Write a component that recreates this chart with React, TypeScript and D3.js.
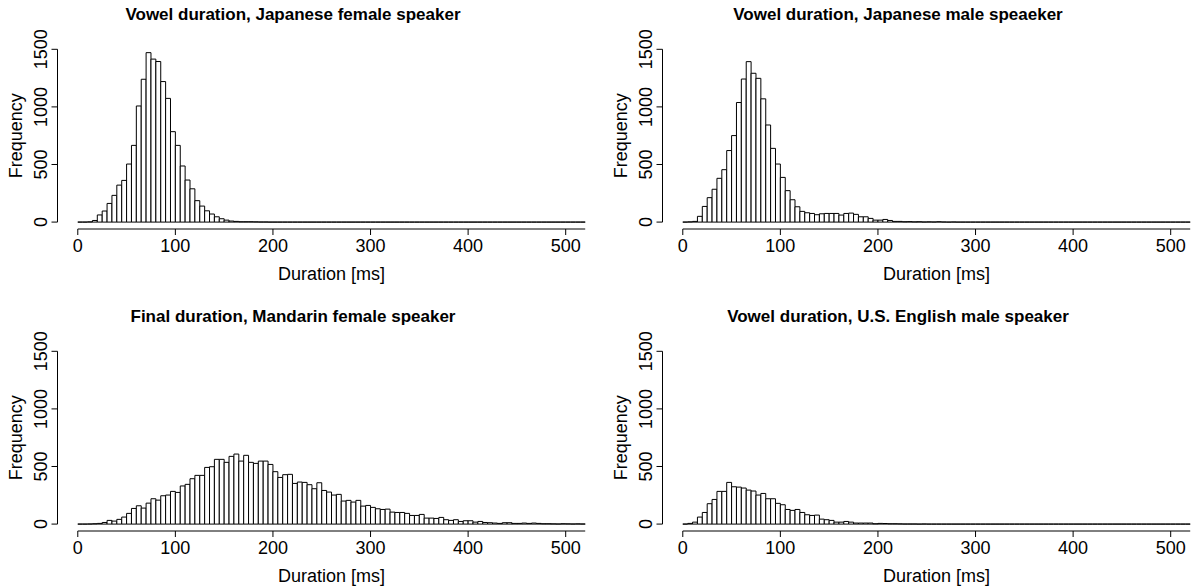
import * as d3 from "d3";

// histogram counts, 5 ms bins from 0 to 520 ms (104 bins)
const jpFemale = [
  0, 0, 2, 14, 62, 96, 162, 232, 321, 362, 504, 666, 1008, 1240, 1471, 1415, 1394, 1220, 1074, 785,
  666, 487, 365, 289, 186, 139, 98, 70, 46, 29, 17, 9, 6, 3, 3, 3, 2, 1, 1, 0,
  0, 0, 0, 0, 0, 0, 0, 0, 0, 0, 0, 0, 0, 0, 0, 0, 0, 0, 0, 0,
  0, 0, 0, 0, 0, 0, 0, 0, 0, 0, 0, 0, 0, 0, 0, 0, 0, 0, 0, 0,
  0, 0, 0, 0, 0, 0, 0, 0, 0, 0, 0, 0, 0, 0, 0, 0, 0, 0, 0, 0,
  0, 0, 0, 0,
];
const jpMale = [
  0, 2, 6, 50, 136, 212, 285, 380, 455, 621, 751, 1038, 1242, 1393, 1292, 1248, 1070, 843, 640, 504,
  388, 273, 194, 133, 93, 81, 75, 64, 72, 75, 75, 75, 61, 75, 78, 67, 46, 46, 32, 17,
  17, 23, 14, 6, 6, 3, 4, 2, 3, 1, 2, 1, 3, 1, 0, 1, 0, 0, 0, 0,
  0, 0, 0, 0, 0, 0, 0, 0, 0, 0, 0, 0, 0, 0, 0, 0, 0, 0, 0, 0,
  0, 0, 0, 0, 0, 0, 0, 0, 0, 0, 0, 0, 0, 0, 0, 0, 0, 0, 0, 0,
  0, 0, 0, 0,
];
const mandarinFemale = [
  0, 0, 1, 3, 6, 14, 32, 26, 41, 61, 93, 136, 159, 139, 182, 220, 208, 246, 252, 284,
  275, 331, 345, 394, 423, 423, 492, 498, 562, 562, 536, 588, 608, 547, 597, 536, 527, 547, 547, 518,
  455, 405, 429, 432, 353, 365, 362, 342, 307, 359, 292, 278, 252, 258, 200, 206, 191, 206, 156, 162,
  145, 133, 127, 130, 104, 101, 101, 93, 75, 75, 84, 52, 52, 49, 58, 38, 32, 38, 23, 29,
  29, 17, 23, 14, 12, 9, 6, 12, 12, 6, 6, 9, 6, 9, 6, 3, 3, 2, 1, 3,
  2, 1, 2, 1,
];
const usMale = [
  0, 6, 17, 61, 101, 177, 214, 284, 284, 362, 324, 321, 313, 295, 287, 252, 266, 220, 220, 180,
  168, 127, 119, 127, 101, 81, 75, 78, 43, 38, 32, 17, 17, 23, 17, 9, 9, 9, 9, 3,
  6, 5, 3, 3, 2, 1, 1, 1, 0, 1, 0, 0, 0, 0, 0, 0, 0, 0, 0, 0,
  0, 0, 0, 0, 0, 0, 0, 0, 0, 0, 0, 0, 0, 0, 0, 0, 0, 0, 0, 0,
  0, 0, 0, 0, 0, 0, 0, 0, 0, 0, 0, 0, 0, 0, 0, 0, 0, 0, 0, 0,
  0, 0, 0, 0,
];

const titles = [
  "Vowel duration, Japanese female speaker",
  "Vowel duration, Japanese male speaeker",
  "Final duration, Mandarin female speaker",
  "Vowel duration, U.S. English male speaker",
];
const series = [jpFemale, jpMale, mandarinFemale, usMale];

const binWidth = 5;
const xMax = 520;
const xTicks = [0, 100, 200, 300, 400, 500];
const yTicks = [0, 500, 1000, 1500];
const yMax = 1500;

const font = "'Liberation Sans', Arial, Helvetica, sans-serif";

function Panel({ title, counts, ox, oy }) {
  // plot region like R: limits padded by 4%
  const left = ox + 57.5, right = ox + 605.5;
  const top = oy + 42.4, bottom = oy + 229;
  const padX = xMax * 0.04, padY = yMax * 0.04;
  const x = d3.scaleLinear().domain([-padX, xMax + padX]).range([left, right]);
  const y = d3.scaleLinear().domain([-padY, yMax + padY]).range([bottom, top]);
  const cx = (left + right) / 2;
  const cy = (top + bottom) / 2;

  // each bin as a closed path so empty bins still show as a line on the baseline
  const barPath = (c, i) => {
    const p = d3.path();
    p.rect(x(i * binWidth), y(c), x((i + 1) * binWidth) - x(i * binWidth), y(0) - y(c));
    return p.toString();
  };

  return (
    <g>
      <text x={ox + 293} y={oy + 20} textAnchor="middle" fontWeight="bold" fontSize={17} fontFamily={font}>
        {title}
      </text>

      {counts.map((c, i) => (
        <path key={i} d={barPath(c, i)} fill="white" stroke="black" strokeWidth={1} />
      ))}

      {/* x axis */}
      <line x1={x(0)} x2={x(xMax)} y1={bottom} y2={bottom} stroke="black" />
      {xTicks.map((t) => (
        <g key={t}>
          <line x1={x(t)} x2={x(t)} y1={bottom} y2={bottom + 6} stroke="black" />
          <text x={x(t)} y={bottom + 23} textAnchor="middle" fontSize={18} fontFamily={font}>
            {t}
          </text>
        </g>
      ))}
      <text x={cx} y={bottom + 51} textAnchor="middle" fontSize={18} fontFamily={font}>
        Duration [ms]
      </text>

      {/* y axis */}
      <line x1={left} x2={left} y1={y(0)} y2={y(yMax)} stroke="black" />
      {yTicks.map((t) => (
        <g key={t}>
          <line x1={left - 6} x2={left} y1={y(t)} y2={y(t)} stroke="black" />
          <text
            transform={`translate(${left - 11},${y(t)}) rotate(-90)`}
            textAnchor="middle"
            fontSize={18}
            fontFamily={font}
          >
            {t}
          </text>
        </g>
      ))}
      <text
        transform={`translate(${ox + 22},${cy}) rotate(-90)`}
        textAnchor="middle"
        fontSize={18}
        fontFamily={font}
      >
        Frequency
      </text>
    </g>
  );
}

export default function App() {
  const offsets = [
    [0, 0],
    [605, 0],
    [0, 302],
    [605, 302],
  ];
  return (
    <svg
      width={1200}
      height={588}
      style={{ position: "absolute", left: 0, top: 0, background: "white" }}
    >
      {series.map((s, i) => (
        <Panel key={i} title={titles[i]} counts={s} ox={offsets[i][0]} oy={offsets[i][1]} />
      ))}
    </svg>
  );
}
